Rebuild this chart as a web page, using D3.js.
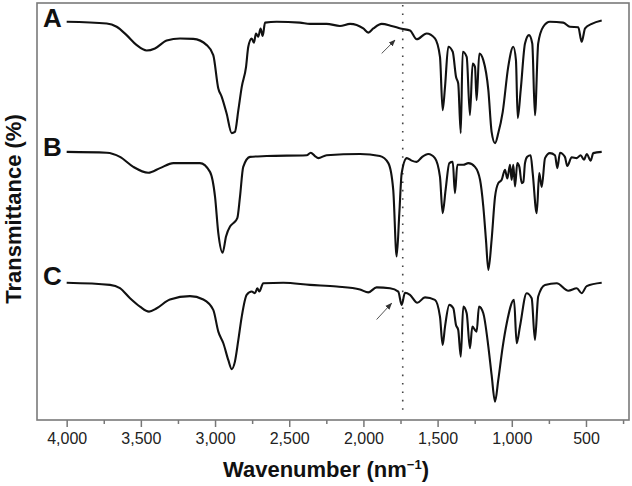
<!DOCTYPE html>
<html lang="en">

<head>
    <meta charset="UTF-8">
    <script src="https://cdn.jsdelivr.net/npm/d3@7"></script>
    <title>FTIR spectra A, B, C</title>
    <style>
        body {
            margin: 0;
            background: #fff;
            font-family: "Liberation Sans", Arial, sans-serif;
        }

        svg {
            display: block;
        }
    </style>
</head>

<body>
    <script>
        /*-------------------------------------------------------*/
        /*------------------------- data ------------------------*/
        /*-------------------------------------------------------*/
        // wavenumber (cm-1) and transmittance (%, shared offset scale)
        const waveA = [4000, 3730, 3663, 3596, 3528, 3461, 3405, 3326, 3236, 3147, 3056, 3012, 2978, 2955, 2922, 2888, 2866, 2843, 2820, 2791, 2776, 2753, 2738, 2724, 2709, 2693, 2679, 2663, 2585, 2428, 2360, 2248, 2158, 2090, 2001, 1967, 1933, 1877, 1810, 1742, 1686, 1641, 1574, 1518, 1484, 1466, 1450, 1428, 1398, 1376, 1361, 1344, 1331, 1304, 1282, 1264, 1248, 1237, 1219, 1192, 1158, 1136, 1113, 1091, 1061, 1024, 990, 972, 960, 940, 911, 884, 862, 844, 822, 788, 743, 653, 608, 552, 529, 506, 461, 394];
        const transA = [95.5, 95.1, 94.3, 92.3, 89.9, 88.6, 89.1, 91.0, 91.5, 91.4, 89.9, 87.5, 79.5, 77.5, 73.5, 68.8, 69.1, 74.3, 79.9, 84.7, 89.5, 91.5, 90.5, 92.7, 91.9, 93.9, 92.1, 95.3, 95.5, 95.3, 95.0, 95.0, 94.5, 95.0, 93.9, 92.9, 93.9, 95.0, 94.5, 93.8, 93.4, 91.3, 92.7, 91.5, 87.1, 74.3, 79.9, 89.5, 88.3, 82.3, 80.7, 68.8, 88.3, 87.1, 73.1, 85.5, 84.7, 76.7, 87.9, 86.3, 79.1, 69.1, 66.4, 68.8, 73.9, 84.7, 89.5, 86.3, 72.4, 79.1, 90.3, 92.3, 90.3, 73.1, 90.3, 94.3, 95.5, 95.3, 94.3, 94.2, 90.7, 93.9, 95.0, 95.8];

        const waveB = [4000, 3730, 3641, 3551, 3450, 3371, 3281, 3102, 3034, 3000, 2978, 2949, 2926, 2899, 2877, 2850, 2832, 2810, 2764, 2652, 2382, 2355, 2327, 2304, 2248, 2023, 1889, 1832, 1799, 1776, 1758, 1742, 1708, 1675, 1641, 1607, 1563, 1518, 1484, 1466, 1446, 1421, 1398, 1383, 1367, 1327, 1293, 1248, 1214, 1192, 1174, 1158, 1136, 1113, 1091, 1068, 1046, 1030, 1012, 1001, 990, 978, 963, 949, 933, 922, 911, 896, 873, 859, 832, 815, 798, 776, 743, 709, 693, 675, 642, 626, 596, 562, 536, 513, 495, 468, 451, 394];
        const transB = [64.3, 64.1, 63.1, 60.7, 59.3, 60.4, 61.6, 61.6, 59.5, 53.5, 44.8, 40.1, 44.0, 46.4, 47.2, 48.4, 53.5, 60.7, 63.1, 63.3, 63.5, 64.1, 63.3, 62.8, 63.5, 63.8, 63.3, 61.6, 55.2, 39.2, 49.6, 59.2, 62.8, 62.2, 61.9, 63.0, 63.8, 62.8, 58.3, 49.6, 55.2, 61.6, 61.9, 54.4, 61.2, 61.2, 61.6, 60.7, 57.6, 51.2, 43.2, 36.0, 43.2, 53.5, 56.8, 57.6, 60.0, 57.9, 61.2, 57.6, 61.2, 56.0, 61.6, 60.7, 56.8, 57.1, 61.6, 63.1, 63.5, 59.2, 49.6, 59.2, 55.9, 62.8, 64.0, 63.5, 60.4, 64.1, 63.1, 60.9, 63.0, 62.8, 63.5, 62.4, 63.8, 62.2, 64.0, 64.3];

        const waveC = [4000, 3708, 3641, 3573, 3506, 3445, 3393, 3304, 3169, 3079, 3012, 2978, 2944, 2911, 2888, 2866, 2843, 2820, 2787, 2753, 2731, 2715, 2702, 2675, 2540, 2360, 2180, 2023, 1967, 1911, 1821, 1765, 1742, 1720, 1686, 1637, 1585, 1518, 1484, 1466, 1450, 1421, 1394, 1376, 1361, 1344, 1327, 1304, 1282, 1266, 1248, 1237, 1221, 1192, 1158, 1136, 1113, 1091, 1061, 1034, 985, 967, 945, 900, 866, 844, 822, 776, 697, 619, 562, 529, 495, 394];
        const transC = [32.9, 32.4, 31.6, 29.2, 27.2, 26.0, 26.8, 28.9, 29.7, 28.9, 26.4, 21.2, 18.4, 14.4, 12.2, 14.0, 19.2, 24.8, 30.0, 30.8, 30.4, 31.6, 30.8, 32.8, 32.9, 32.4, 32.0, 31.3, 30.6, 31.8, 31.6, 30.8, 27.6, 30.5, 30.0, 28.1, 29.4, 28.8, 24.8, 18.0, 22.4, 27.6, 26.8, 22.8, 21.6, 15.2, 27.2, 25.6, 17.2, 22.4, 21.6, 21.2, 27.2, 25.6, 17.6, 10.8, 4.4, 9.6, 17.6, 23.2, 28.8, 18.4, 22.4, 30.4, 29.2, 19.2, 29.6, 32.4, 32.8, 31.0, 31.6, 30.4, 32.1, 32.9];

        const seriesNames = ["A", "B", "C"];
        const labelTrans = [96, 65, 34];     // where the panel letters sit
        const majorTicks = [4000, 3500, 3000, 2500, 2000, 1500, 1000, 500];
        const minorTicks = [3750, 3250, 2750, 2250, 1750, 1250, 750, 250];
        const markerWave = 1735;               // dotted carbonyl line
        const arrowA = [[1877, 87.9], [1787, 91.1]];
        const arrowC = [[1911, 24.1], [1810, 28.0]];

        /*-------------------------------------------------------*/
        /*------------------------ setup ------------------------*/
        /*-------------------------------------------------------*/
        const width = 632, height = 486;
        const frame = { left: 37, right: 629, top: 3, bottom: 420 };

        const x = d3.scaleLinear().domain([4200, 210]).range([frame.left, frame.right]);
        const y = d3.scaleLinear().domain([0, 100]).range([frame.bottom, frame.top]);

        const svg = d3.select("body").append("svg")
            .attr("width", width)
            .attr("height", height);

        // arrow head
        svg.append("defs").append("marker")
            .attr("id", "head")
            .attr("viewBox", "0 0 10 10")
            .attr("refX", 9).attr("refY", 5)
            .attr("markerWidth", 7).attr("markerHeight", 7)
            .attr("markerUnits", "userSpaceOnUse")
            .attr("orient", "auto")
            .append("path")
            .attr("d", "M0,1 L10,5 L0,9 Z")
            .attr("fill", "#333");

        /*-------------------------------------------------------*/
        /*------------------------ axes -------------------------*/
        /*-------------------------------------------------------*/
        const xMajor = d3.axisBottom(x).tickValues(majorTicks)
            .tickSize(7).tickSizeOuter(0).tickPadding(6)
            .tickFormat(d3.format(","));
        const xMinor = d3.axisBottom(x).tickValues(minorTicks)
            .tickSize(4).tickSizeOuter(0).tickFormat("");

        const gMinor = svg.append("g").attr("transform", `translate(0,${frame.bottom})`).call(xMinor);
        const gMajor = svg.append("g").attr("transform", `translate(0,${frame.bottom})`).call(xMajor);
        [gMinor, gMajor].forEach(g => {
            g.select(".domain").remove();
            g.selectAll("line").attr("stroke", "#777").attr("stroke-width", 1.5);
        });
        gMajor.selectAll("text")
            .attr("font-family", "Liberation Sans, Arial, sans-serif")
            .attr("font-size", 16)
            .attr("fill", "#222");

        // frame
        svg.append("rect")
            .attr("x", frame.left).attr("y", frame.top)
            .attr("width", frame.right - frame.left)
            .attr("height", frame.bottom - frame.top)
            .attr("fill", "none")
            .attr("stroke", "#7a7a7a")
            .attr("stroke-width", 1.6);

        // axis titles
        const xTitle = svg.append("text")
            .attr("x", 326).attr("y", 477)
            .attr("text-anchor", "middle")
            .attr("font-size", 22).attr("font-weight", "bold")
            .attr("fill", "#111");
        xTitle.append("tspan").text("Wavenumber (nm");
        xTitle.append("tspan").attr("font-size", 13).attr("dy", -8).text("\u22121");
        xTitle.append("tspan").attr("dy", 8).text(")");

        svg.append("text")
            .attr("transform", `translate(21,209) rotate(-90)`)
            .attr("text-anchor", "middle")
            .attr("font-size", 22).attr("font-weight", "bold")
            .attr("fill", "#111")
            .text("Transmittance (%)");

        /*-------------------------------------------------------*/
        /*---------------------- marks --------------------------*/
        /*-------------------------------------------------------*/
        svg.append("line")
            .attr("x1", x(markerWave)).attr("x2", x(markerWave))
            .attr("y1", frame.top + 2).attr("y2", frame.bottom - 4)
            .attr("stroke", "#444")
            .attr("stroke-width", 1.6)
            .attr("stroke-dasharray", "1.6,6.8");

        const line = d3.line()
            .x(d => x(d[0]))
            .y(d => y(d[1]))
            .curve(d3.curveMonotoneX);

        const spectra = [
            d3.zip(waveA, transA),
            d3.zip(waveB, transB),
            d3.zip(waveC, transC)
        ];

        svg.selectAll("path.spec")
            .data(spectra)
            .enter()
            .append("path")
            .attr("class", "spec")
            .attr("d", line)
            .attr("fill", "none")
            .attr("stroke", "#111")
            .attr("stroke-width", 2.1)
            .attr("stroke-linejoin", "round");

        svg.selectAll("text.panel")
            .data(seriesNames)
            .enter()
            .append("text")
            .attr("class", "panel")
            .attr("x", 43)
            .attr("y", (d, i) => y(labelTrans[i]) + 7)
            .attr("font-size", 26).attr("font-weight", "bold")
            .attr("fill", "#111")
            .text(d => d);

        [arrowA, arrowC].forEach(a => {
            svg.append("line")
                .attr("x1", x(a[0][0])).attr("y1", y(a[0][1]))
                .attr("x2", x(a[1][0])).attr("y2", y(a[1][1]))
                .attr("stroke", "#555")
                .attr("stroke-width", 1)
                .attr("marker-end", "url(#head)");
        });
    </script>
</body>

</html>
